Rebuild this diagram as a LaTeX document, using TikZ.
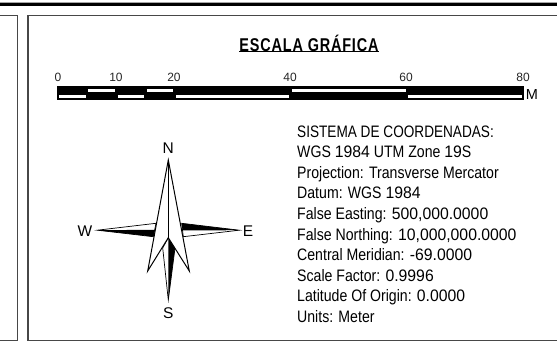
\documentclass[tikz,border=0pt]{standalone}
\usepackage{fontspec}
\setmainfont{Liberation Sans}
\newfontfamily\bodyfont[FakeStretch=0.85]{Liberation Sans}
\newfontfamily\capsfont[FakeStretch=0.82]{Liberation Sans}
\newfontfamily\digitfont[FakeStretch=0.95]{Liberation Sans}
\newcommand{\dg}[1]{{\digitfont #1}}
\newfontfamily\titlefont[FakeStretch=0.78,LetterSpace=4.5]{Liberation Sans Bold}
\tikzset{
  panel/.style={draw=black!72,line width=1.2pt},
  whitebar/.style={fill=white,draw=none},
  needle/.style={draw=black,fill=white,line width=1pt,line join=miter,miter limit=20},
  tick/.style={font=\fontsize{12}{12}\selectfont,text=black!85,inner sep=0pt},
  cardinal/.style={font=\fontsize{15.5}{15.5}\selectfont,inner sep=0pt},
  infotext/.style={font=\bodyfont\fontsize{16.6}{20.6}\selectfont,align=left,anchor=north west,inner sep=0pt},
}
\begin{document}
\begin{tikzpicture}[x=1pt,y=-1pt]
\useasboundingbox[fill=white] (0,0) rectangle (557,348);
% top rule
\fill[black!35] (0,2) rectangle (557,3.4);
\fill[black] (0,3.4) rectangle (557,6.1);
% panels
\draw[panel] (0,15.3) -- (17.3,15.3) -- (17.3,340.8) -- (0,340.8);
\draw[panel] (557,15.3) -- (28,15.3) -- (28,340.8) -- (557,340.8);
% title
\node[font=\titlefont\fontsize{18.5}{18.5}\selectfont,inner sep=0pt] (title) at (309,43.6) {ESCALA GRÁFICA};
\draw[line width=1.1pt] (239,51.3) -- (379,51.3);
% scale bar
\fill[black] (57.2,86) rectangle (524.3,100.3);
\foreach \a/\b in {88.3/115,146.5/173.3,291.7/405.7}
  \fill[whitebar] (\a,88.6) rectangle (\b,92.3);
\foreach \a/\b in {59/85.7,117.7/144.2,176/289.3,408.3/522}
  \fill[whitebar] (\a,95) rectangle (\b,98.3);
\foreach \x/\t in {58/0,116/10,174/20,290/40,406/60,523/80}
  \node[tick] (t\t) at (\x,77) {\t};
\node[font=\fontsize{14.5}{14.5}\selectfont,inner sep=0pt] (unit) at (532,94.5) {M};
% compass
\draw[needle,line width=0.7pt] (97.3,230.2) -- (156,223.3) -- (153.3,236.7) -- cycle;
\fill[black] (97.3,230.2) -- (155,229.8) -- (153.3,236.7) -- cycle;
\draw[needle,line width=0.7pt] (239.3,230.2) -- (181.7,223.3) -- (183.3,236.7) -- cycle;
\fill[black] (239.3,230.2) -- (181.7,223.3) -- (182.5,230.4) -- cycle;
\draw[needle,line width=0.7pt] (168.3,300) -- (162.7,248) -- (168.3,237.7) -- (175,248) -- cycle;
\fill[black] (168.3,300) -- (168.3,237.7) -- (175,248) -- cycle;
\draw[needle] (168.3,160) -- (189.3,271) -- (168.3,237.7) -- (147.7,271) -- cycle;
\draw[line width=1pt] (168.3,160) -- (168.3,237.7);
\node[cardinal] (n) at (168.3,148) {N};
\node[cardinal] (s) at (168.3,313) {S};
\node[cardinal] (w) at (85,231) {W};
\node[cardinal] (e) at (248,231) {E};
% info
\node[infotext] (info) at (297,125.3) {{\capsfont SISTEMA DE COORDENADAS:}\\
WGS \dg{1984} UTM Zone \dg{19}S\\
Projection: Transverse Mercator\\
Datum: WGS \dg{1984}\\
False Easting: \dg{500,000.0000}\\
False Northing: \dg{10,000,000.0000}\\
Central Meridian: \dg{-69.0000}\\
Scale Factor: \dg{0.9996}\\
Latitude Of Origin: \dg{0.0000}\\
Units: Meter};
\end{tikzpicture}
\end{document}
